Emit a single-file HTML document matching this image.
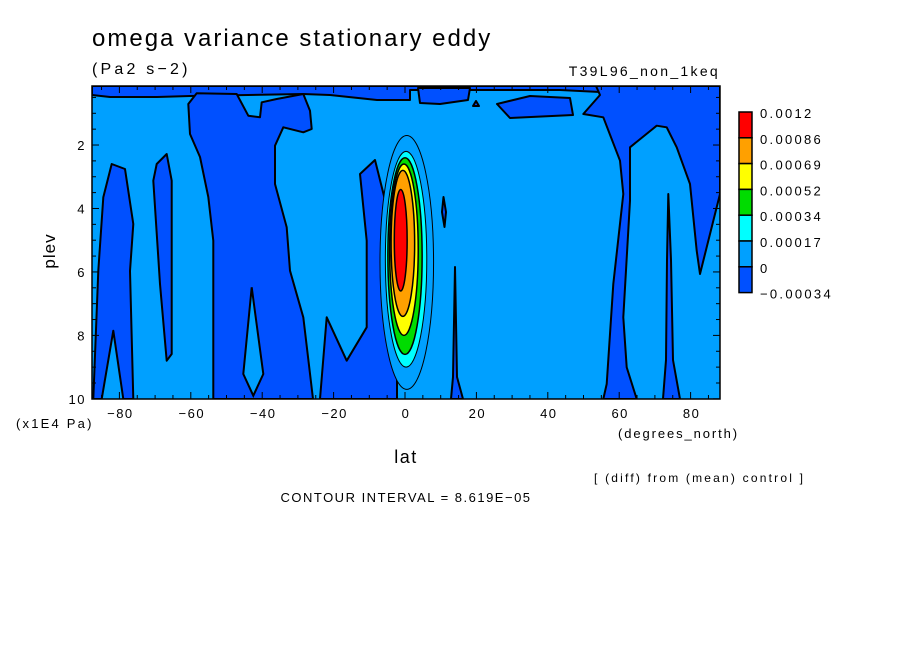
<!DOCTYPE html>
<html><head><meta charset="utf-8"><style>
body{margin:0;background:#fff;width:904px;height:654px;overflow:hidden;font-family:"Liberation Sans",sans-serif}
svg text{font-family:"Liberation Sans",sans-serif;fill:#000}
</style></head><body>
<svg id="chart" width="904" height="654" xmlns="http://www.w3.org/2000/svg"></svg>
<script>
const latTicks=[-80,-60,-40,-20,0,20,40,60,80];
const plevTicks=[2,4,6,8,10];
const legendLabels=["0.0012","0.00086","0.00069","0.00052","0.00034","0.00017","0","-0.00034"];
const legendColors=["#ff0000","#ffa000","#ffff00","#00dc00","#00ffff","#00a0ff","#0050ff"];
// regions given as pixel-traced points converted to lat/plev inside drawing (stored as lat,plev)
const negRegionsPx=[
 [[92,86],[720,86],[720,90],[600,92],[560,90],[480,90],[410,90],[410,100],[377,100],[330,95],[303,94],[190,96],[157,97],[110,97],[92,95]],
 [[111.7,164],[125,169],[133.3,224],[130,271],[133.3,399],[123.3,399],[113.3,330.7],[101.7,399],[93.3,399],[98.3,270.7],[103.3,197.3]],
 [[156.7,164],[166.7,154],[171.7,180.7],[171.7,354],[166.7,360.7],[160,284],[153.3,180.7]],
 [[188.3,104],[196.7,93.3],[236.7,94],[248.3,115.7],[260,117.3],[261.7,102.3],[276.7,99],[303.3,94],[310,110.7],[311.7,129],[303.3,132.3],[283.3,127.3],[275,145.7],[275,184],[286.7,227.3],[290,270.7],[303.3,317.3],[313,399],[213.3,399],[213.3,240.7],[208.3,197],[200,157],[190,134]],
 [[360,174],[366.7,240.7],[366.7,327.3],[346.7,360.7],[326.7,317.3],[320,399],[397,399],[397,300],[385,200],[375,160]],
 [[418,88],[470,88],[468,100],[440,104],[420,103]],
 [[497,104],[530,96],[570,98],[573,115],[510,118]],
 [[583.3,114],[603.3,117.3],[620,160.7],[623.3,194],[613.3,284],[606.7,384],[603.3,399],[636.7,399],[626.7,367.3],[623.3,317.3],[630,200.7],[630,147.3],[656.7,125.7],[666.7,127.3],[676.7,147.3],[690,184],[696.7,250.7],[700,274],[710,234],[720,194],[720,86],[596,86],[600,95]],
 [[668.3,194],[671,260],[673,360],[680,399],[663,399],[666,360],[667,260]],
 [[455,267],[457,377],[463,399],[451,399],[453,377]],
 [[443.5,197],[446,212],[444.5,227],[442,212]],
 [[473,106],[476,101],[479,106]]
];
const posRegionsPx=[[[243.3,374],[251.7,287.3],[263.3,374],[253.3,395.7]]];
const blobColors=["#00a0ff","#00ffff","#00dc00","#ffff00","#ffa000","#ff0000"];
const blobLat=[0.5,0.3,0,-0.3,-0.6,-1.2];
const blobPlev=[5.7,5.6,5.5,5.3,5.1,5.0];
const blobHalfLat=[7.5,5.8,4.8,4,3.3,1.8];
const blobHalfPlev=[4.0,3.4,3.1,2.7,2.3,1.6];
const ns="http://www.w3.org/2000/svg",svg=document.getElementById('chart');
const X=l=>405+l*3.57, Y=p=>86+(p-0.14)*31.73;
const LAT=x=>(x-405)/3.57, PLEV=y=>(y-86)/31.73+0.14;
const negRegions=negRegionsPx.map(r=>r.map(q=>[LAT(q[0]),PLEV(q[1])]));
const posRegions=posRegionsPx.map(r=>r.map(q=>[LAT(q[0]),PLEV(q[1])]));
function mk(t,a,p){const e=document.createElementNS(ns,t);for(const k in a)e.setAttribute(k,a[k]);(p||svg).appendChild(e);return e;}
const cp=mk('clipPath',{id:'cp'});mk('rect',{x:92,y:86,width:628,height:313},cp);
const bg=mk('rect',{x:92,y:86,width:628,height:313,fill:'#00a0ff'});

const g=mk('g',{'clip-path':'url(#cp)'});
negRegions.forEach(r=>{const p=mk('polygon',{points:r.map(q=>X(q[0])+','+Y(q[1])).join(' '),fill:'#0050ff',stroke:'#000','stroke-width':2,'stroke-linejoin':'round'},g);
});
posRegions.forEach(r=>{const p=mk('polygon',{points:r.map(q=>X(q[0])+','+Y(q[1])).join(' '),fill:'#00a0ff',stroke:'#000','stroke-width':2},g);
});
blobColors.forEach((c,i)=>{const e=mk('ellipse',{cx:X(blobLat[i]),cy:Y(blobPlev[i]),rx:blobHalfLat[i]*3.57,ry:blobHalfPlev[i]*31.73,fill:c,stroke:'#000','stroke-width':i>1?1.5:1},g);
});
const fr=mk('rect',{x:92,y:86,width:628,height:313,fill:'none',stroke:'#000','stroke-width':1.5});

for(let l=-85;l<=85;l+=5){const big=l%20==0;mk('line',{x1:X(l),x2:X(l),y1:399,y2:big?392:395,stroke:'#000'});mk('line',{x1:X(l),x2:X(l),y1:86,y2:big?93:90,stroke:'#000'});}
function txt(s,x,y,sz,name,anchor,ls,rot){const t=mk('text',{x:x,y:y,'font-size':sz,'text-anchor':anchor||'start','letter-spacing':ls||0});if(rot)t.setAttribute('transform',rot);t.textContent=s;
return t;}
latTicks.forEach(l=>{txt(l<0?'\u2212'+(-l):String(l),X(l)+1,418,13,'x-tick-label','middle',1.5);});
for(let p=0.5;p<=10;p+=0.5){const big=p%2==0;mk('line',{x1:92,x2:big?99:96,y1:Y(p),y2:Y(p),stroke:'#000'});mk('line',{x1:720,x2:big?713:716,y1:Y(p),y2:Y(p),stroke:'#000'});}
plevTicks.forEach(p=>{txt(String(p),86,Y(p)+5,13,'y-tick-label','end',1.5);});
legendColors.forEach((c,i)=>{const r=mk('rect',{x:739,y:112+i*25.8,width:13,height:25.8,fill:c,stroke:'#000','stroke-width':1.5});
});
legendLabels.forEach((s,i)=>{txt(s.replace('-','\u2212'),760,118+i*25.8,13,'legend-label','start',2.3);});
txt('omega variance stationary eddy',92,46,24,'chart-title','start',2);
txt('(Pa2 s\u22122)',92,74,16,'units-label','start',3.2);
txt('T39L96_non_1keq',720,76,14,'experiment-label','end',2.3);
txt('plev',55,251,17,'y-axis-title','middle',1,'rotate(-90 55 251)');
txt('(x1E4 Pa)',16,428,13,'y-axis-unit','start',2.2);
txt('lat',406,463,18,'x-axis-title','middle',1.5);
txt('(degrees_north)',618,438,13,'x-axis-unit','start',1.9);
txt('[ (diff) from (mean) control ]',594,482,12,'diff-note','start',2.2);
txt('CONTOUR INTERVAL = 8.619E\u221205',406,502,13,'contour-interval','middle',1.5);
</script>
</body></html>
